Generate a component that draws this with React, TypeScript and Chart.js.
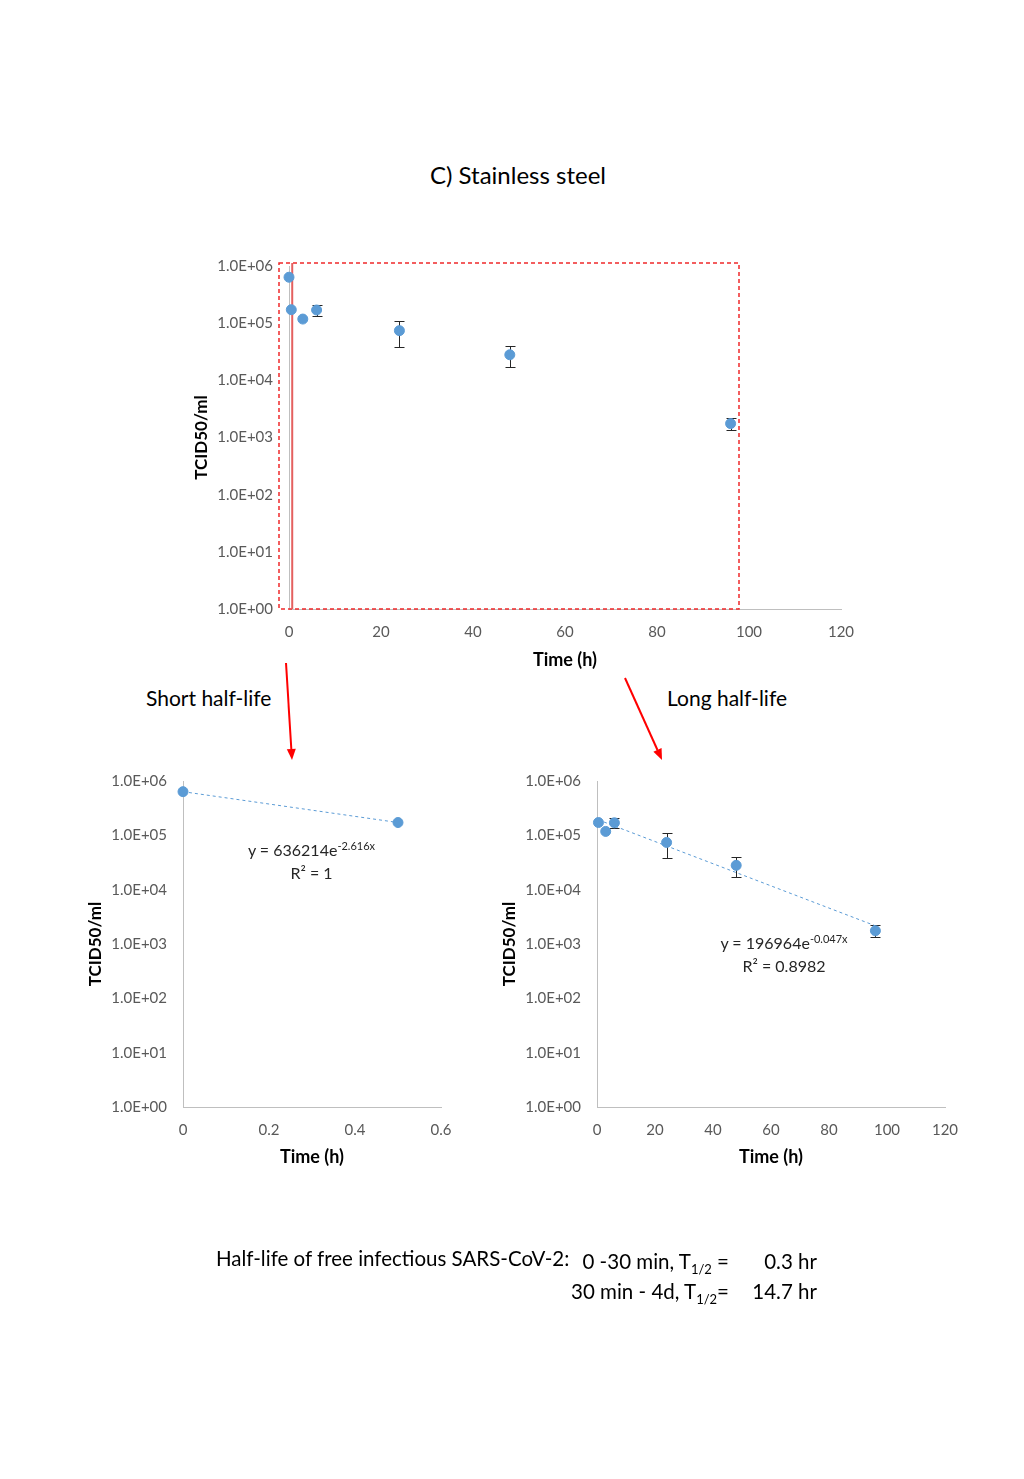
import React, { useEffect, useRef } from "react";
import { Chart, registerables } from "chart.js";

Chart.register(...registerables);

const FONT = "Lato, 'Open Sans', 'DejaVu Sans', sans-serif";
const BLUE = "#5B9BD5";
const AXIS = "#BFBFBF";
const TICK = "#595959";

// ---- data ----
const timeH = [0, 0.5, 3, 6, 24, 48, 96];
const titre = [636214, 172000, 118000, 170000, 74000, 28000, 1750];
const errLow = [NaN, NaN, NaN, 135000, 38000, 17000, 1350];
const errHigh = [NaN, NaN, NaN, 205000, 109000, 40000, 2200];

const shortTime = timeH.slice(0, 2);
const shortTitre = titre.slice(0, 2);
const longTime = timeH.slice(1);
const longTitre = titre.slice(1);
const longErrLow = errLow.slice(1);
const longErrHigh = errHigh.slice(1);

const yTickValues = [1, 10, 100, 1000, 10000, 100000, 1000000];
const xTicksHours = [0, 20, 40, 60, 80, 100, 120];
const xTicksShort = [0, 0.2, 0.4, 0.6];

// fitted exponential trend lines (from the displayed equations)
const shortFitA = 636214;
const shortFitK = -2.616;
const shortFitRange = [0, 0.5];
const longFitA = 196964;
const longFitK = -0.047;
const longFitRange = [0.5, 96];

const fmtExp = (v: number) => {
  const e = Math.round(Math.log10(v));
  return "1.0E+" + String(e).padStart(2, "0");
};

const errorBarPlugin = {
  id: "errorBars",
  beforeDatasetsDraw(chart: any) {
    const { ctx, scales } = chart;
    const x = scales.x;
    const y = scales.y;
    chart.data.datasets.forEach((ds: any) => {
      if (!ds.errLow) return;
      ds.data.forEach((p: any, i: number) => {
        const lo = ds.errLow[i];
        const hi = ds.errHigh[i];
        if (!isFinite(lo) || !isFinite(hi)) return;
        const px = Math.round(x.getPixelForValue(p.x)) + 0.5;
        const y1 = Math.round(y.getPixelForValue(lo)) + 0.5;
        const y2 = Math.round(y.getPixelForValue(hi)) + 0.5;
        ctx.save();
        ctx.strokeStyle = "#262626";
        ctx.lineWidth = 1;
        ctx.beginPath();
        ctx.moveTo(px, y1);
        ctx.lineTo(px, y2);
        ctx.moveTo(px - 5, y1);
        ctx.lineTo(px + 5, y1);
        ctx.moveTo(px - 5, y2);
        ctx.lineTo(px + 5, y2);
        ctx.stroke();
        ctx.restore();
      });
    });
  },
};

const regionPlugin = {
  id: "regions",
  beforeDatasetsDraw(chart: any) {
    const { ctx, scales } = chart;
    const x = scales.x;
    const y = scales.y;
    const l = Math.round(x.getPixelForValue(-2.2));
    const r = Math.round(x.getPixelForValue(97.8));
    const t = Math.round(y.getPixelForValue(1.13e6));
    const b = Math.round(y.getPixelForValue(1));
    ctx.save();
    ctx.strokeStyle = "#F0282A";
    ctx.lineWidth = 1.5;
    ctx.setLineDash([4, 3]);
    ctx.strokeRect(l, t, r - l, b - t);
    ctx.setLineDash([]);
    ctx.strokeStyle = "#E4605F";
    ctx.lineWidth = 2;
    const sx = x.getPixelForValue(0.7);
    ctx.beginPath();
    ctx.moveTo(sx, t);
    ctx.lineTo(sx, b);
    ctx.stroke();
    ctx.restore();
  },
};

type Cfg = {
  xMin: number;
  xMax: number;
  xTicks: number[];
  yWidth: number;
  yTitlePad: number;
  xHeight: number;
  padding: { left: number; top: number; right: number; bottom: number };
  datasets: any[];
  plugins: any[];
};

function makeConfig(c: Cfg): any {
  return {
    type: "scatter",
    data: { datasets: c.datasets },
    plugins: c.plugins,
    options: {
      animation: false,
      responsive: false,
      devicePixelRatio: 1,
      layout: { padding: c.padding },
      plugins: { legend: { display: false }, tooltip: { enabled: false } },
      scales: {
        x: {
          type: "linear",
          min: c.xMin,
          max: c.xMax,
          afterBuildTicks: (s: any) => {
            s.ticks = c.xTicks.map((v) => ({ value: v }));
          },
          afterFit: (s: any) => {
            s.height = c.xHeight;
          },
          grid: { display: false, drawTicks: false },
          border: { display: true, color: AXIS, width: 1 },
          ticks: {
            padding: 14,
            color: TICK,
            autoSkip: false,
            maxRotation: 0,
            font: { family: FONT, size: 15 },
            callback: (v: any) => String(v),
          },
          title: {
            display: true,
            text: "Time (h)",
            color: "#000",
            font: { family: FONT, size: 18, weight: "bold" },
            padding: { top: 0, bottom: 0 },
          },
        },
        y: {
          type: "logarithmic",
          min: 1,
          max: 1000000,
          afterBuildTicks: (s: any) => {
            s.ticks = yTickValues.map((v) => ({ value: v }));
          },
          afterFit: (s: any) => {
            s.width = c.yWidth;
          },
          grid: { display: false, drawTicks: false },
          border: { display: true, color: AXIS, width: 1 },
          ticks: {
            padding: 16,
            color: TICK,
            autoSkip: false,
            font: { family: FONT, size: 15 },
            callback: (v: any) => fmtExp(Number(v)),
          },
          title: {
            display: true,
            text: "TCID50/ml",
            color: "#000",
            font: { family: FONT, size: 17, weight: "bold" },
            padding: { top: c.yTitlePad, bottom: 0 },
          },
        },
      },
    },
  };
}

const pointsDataset = (xs: number[], ys: number[], lo?: number[], hi?: number[]) => ({
  data: xs.map((x, i) => ({ x, y: ys[i] })),
  showLine: false,
  pointRadius: 5,
  pointBorderWidth: 1,
  pointBackgroundColor: BLUE,
  pointBorderColor: BLUE,
  clip: false,
  errLow: lo,
  errHigh: hi,
});

const trendDataset = (a: number, k: number, range: number[]) => ({
  data: range.map((x) => ({ x, y: a * Math.exp(k * x) })),
  showLine: true,
  pointRadius: 0,
  borderColor: BLUE,
  borderWidth: 1,
  borderDash: [3, 3],
  clip: false,
});

function ChartBox(props: { left: number; top: number; width: number; height: number; build: () => any }) {
  const ref = useRef<HTMLCanvasElement>(null);
  useEffect(() => {
    const chart = new Chart(ref.current as HTMLCanvasElement, props.build());
    return () => chart.destroy();
  }, []);
  return (
    <canvas
      ref={ref}
      width={props.width}
      height={props.height}
      style={{ position: "absolute", left: props.left, top: props.top, width: props.width, height: props.height }}
    />
  );
}

function Arrow(p: { x1: number; y1: number; x2: number; y2: number }) {
  const dx = p.x2 - p.x1;
  const dy = p.y2 - p.y1;
  const len = Math.hypot(dx, dy);
  const ux = dx / len;
  const uy = dy / len;
  const hl = 11;
  const hw = 4.5;
  const bx = p.x2 - ux * hl;
  const by = p.y2 - uy * hl;
  const pts = `${p.x2},${p.y2} ${bx - uy * hw},${by + ux * hw} ${bx + uy * hw},${by - ux * hw}`;
  return (
    <g>
      <line x1={p.x1} y1={p.y1} x2={bx} y2={by} stroke="#FF0000" strokeWidth={2} />
      <polygon points={pts} fill="#FF0000" />
    </g>
  );
}

export default function App() {
  const sub = { fontSize: 13, position: "relative" as const, top: 5, lineHeight: 0 };
  const sup = { fontSize: 11, position: "relative" as const, top: -6, lineHeight: 0 };
  const rightCell = (right: number, top: number): React.CSSProperties => ({
    position: "absolute",
    right: 1024 - right,
    top,
    fontSize: 20.5,
    lineHeight: "26px",
    whiteSpace: "nowrap",
    textAlign: "right",
  });
  return (
    <div
      style={{
        position: "absolute",
        left: 0,
        top: 0,
        width: 1024,
        height: 1479,
        background: "#fff",
        overflow: "hidden",
        fontFamily: FONT,
        color: "#000",
      }}
    >
      <div
        style={{
          position: "absolute",
          left: 518,
          top: 160,
          transform: "translateX(-50%)",
          fontSize: 24,
          lineHeight: "30px",
          whiteSpace: "nowrap",
        }}
      >
        C) Stainless steel
      </div>

      <ChartBox
        left={150}
        top={230}
        width={720}
        height={450}
        build={() =>
          makeConfig({
            xMin: 0,
            xMax: 120,
            xTicks: xTicksHours,
            yWidth: 139,
            yTitlePad: 41,
            xHeight: 62,
            padding: { left: 0, top: 36, right: 29, bottom: 9 },
            datasets: [pointsDataset(timeH, titre, errLow, errHigh)],
            plugins: [regionPlugin, errorBarPlugin],
          })
        }
      />

      <ChartBox
        left={40}
        top={740}
        width={440}
        height={440}
        build={() =>
          makeConfig({
            xMin: 0,
            xMax: 0.6,
            xTicks: xTicksShort,
            yWidth: 143,
            yTitlePad: 45,
            xHeight: 61,
            padding: { left: 0, top: 41, right: 39, bottom: 12 },
            datasets: [pointsDataset(shortTime, shortTitre), trendDataset(shortFitA, shortFitK, shortFitRange)],
            plugins: [errorBarPlugin],
          })
        }
      />

      <ChartBox
        left={460}
        top={740}
        width={540}
        height={440}
        build={() =>
          makeConfig({
            xMin: 0,
            xMax: 120,
            xTicks: xTicksHours,
            yWidth: 137,
            yTitlePad: 39,
            xHeight: 61,
            padding: { left: 0, top: 41, right: 55, bottom: 12 },
            datasets: [
              pointsDataset(longTime, longTitre, longErrLow, longErrHigh),
              trendDataset(longFitA, longFitK, longFitRange),
            ],
            plugins: [errorBarPlugin],
          })
        }
      />

      <div style={{ position: "absolute", left: 146, top: 684, fontSize: 21, lineHeight: "28px", whiteSpace: "nowrap" }}>
        Short half-life
      </div>
      <div style={{ position: "absolute", left: 667, top: 684, fontSize: 21, lineHeight: "28px", whiteSpace: "nowrap" }}>
        Long half-life
      </div>

      <svg width={1024} height={1479} style={{ position: "absolute", left: 0, top: 0, pointerEvents: "none" }}>
        <Arrow x1={286} y1={663} x2={292} y2={760} />
        <Arrow x1={625} y1={678} x2={662} y2={760} />
      </svg>

      <div
        style={{
          position: "absolute",
          left: 311.5,
          top: 838,
          transform: "translateX(-50%)",
          textAlign: "center",
          fontSize: 16,
          lineHeight: "23px",
          color: "#262626",
          whiteSpace: "nowrap",
        }}
      >
        <div>
          y = 636214e<span style={sup}>-2.616x</span>
        </div>
        <div>R² = 1</div>
      </div>

      <div
        style={{
          position: "absolute",
          left: 784,
          top: 931,
          transform: "translateX(-50%)",
          textAlign: "center",
          fontSize: 16,
          lineHeight: "23px",
          color: "#262626",
          whiteSpace: "nowrap",
        }}
      >
        <div>
          y = 196964e<span style={sup}>-0.047x</span>
        </div>
        <div>R² = 0.8982</div>
      </div>

      <div style={{ position: "absolute", left: 216, top: 1245, fontSize: 20.5, lineHeight: "26px", whiteSpace: "nowrap" }}>
        Half-life of free infectious SARS-CoV-2:
      </div>
      <div style={rightCell(729, 1248)}>
        0 -30 min, T<span style={sub}>1/2</span> =
      </div>
      <div style={rightCell(817, 1248)}>0.3 hr</div>
      <div style={rightCell(729, 1278)}>
        30 min - 4d, T<span style={sub}>1/2</span>=
      </div>
      <div style={rightCell(817, 1278)}>14.7 hr</div>
    </div>
  );
}
